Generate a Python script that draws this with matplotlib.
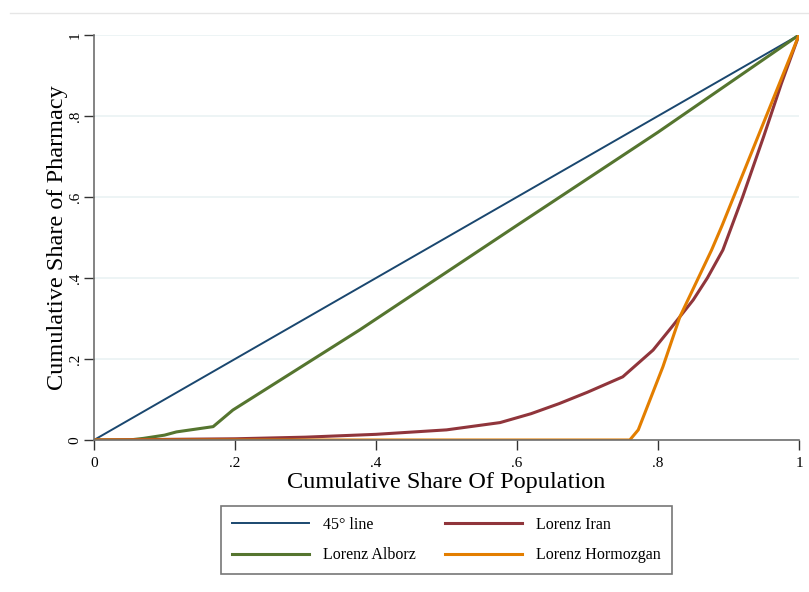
import matplotlib.pyplot as plt
from matplotlib.lines import Line2D

plt.rcParams['font.family'] = ['Liberation Serif', 'DejaVu Serif']

line45_x = [0, 0.1, 0.2, 0.3, 0.4, 0.5, 0.6, 0.7, 0.8, 0.9, 1.0]
line45_y = [0, 0.1, 0.2, 0.3, 0.4, 0.5, 0.6, 0.7, 0.8, 0.9, 1.0]

alborz_x = [0, 0.05, 0.07, 0.1, 0.117, 0.169, 0.197, 0.377, 0.6, 0.8, 1.0]
alborz_y = [0, 0.0, 0.004, 0.012, 0.02, 0.033, 0.074, 0.272, 0.53, 0.76, 1.0]

iran_x = [0, 0.2, 0.3, 0.4, 0.5, 0.576, 0.62, 0.66, 0.7, 0.75, 0.793, 0.82, 0.85, 0.87, 0.892, 0.92, 0.95, 0.975, 1.0]
iran_y = [0, 0.003, 0.007, 0.014, 0.025, 0.043, 0.065, 0.09, 0.118, 0.156, 0.222, 0.28, 0.346, 0.4, 0.469, 0.6, 0.75, 0.88, 1.0]

hormozgan_x = [0, 0.5, 0.76, 0.772, 0.807, 0.831, 0.876, 0.891, 1.0]
hormozgan_y = [0, 0.0, 0.0, 0.025, 0.181, 0.304, 0.469, 0.53, 1.0]

ticks = [0, 0.2, 0.4, 0.6, 0.8, 1.0]
tick_labels = ['0', '.2', '.4', '.6', '.8', '1']

c_navy = '#1a476f'
c_green = '#55752f'
c_maroon = '#90353b'
c_orange = '#e37e00'

fig = plt.figure(figsize=(8.09, 5.92), dpi=100)
ax = fig.add_axes([94 / 809, 1 - 440 / 592, 705 / 809, 405 / 592])

# thin rule across the top of the image
fig.add_artist(Line2D([10 / 809, 1], [1 - 13 / 592] * 2, color='#e6e6e6', lw=1))

ax.plot(line45_x, line45_y, color=c_navy, lw=1.4, label='45° line')
ax.plot(alborz_x, alborz_y, color=c_green, lw=2.2, label='Lorenz Alborz')
ax.plot(iran_x, iran_y, color=c_maroon, lw=2.2, label='Lorenz Iran')
ax.plot(hormozgan_x, hormozgan_y, color=c_orange, lw=2.2, label='Lorenz Hormozgan')

ax.set_xlim(0, 1)
ax.set_ylim(0, 1)
ax.set_xticks(ticks)
ax.set_xticklabels(tick_labels, fontsize=11)
ax.set_yticks(ticks)
ax.set_yticklabels(tick_labels, fontsize=11, rotation=90, va='center')
ax.tick_params(direction='out', length=7, width=1, color='#333333')
ax.tick_params(axis='x', pad=5)
ax.tick_params(axis='y', pad=2)

ax.yaxis.grid(True, color='#eaf2f3', lw=1.2)
ax.set_axisbelow(True)
for s in ['top', 'right']:
    ax.spines[s].set_visible(False)
for s in ['left', 'bottom']:
    ax.spines[s].set_color('#6e6e6e')
    ax.spines[s].set_linewidth(1.2)

ax.set_xlabel('Cumulative Share Of Population', fontsize=17.5, labelpad=2)
ax.set_ylabel('Cumulative Share of Pharmacy', fontsize=17.5, labelpad=0)

box = (221 / 809, 1 - 573 / 592, 451 / 809, 66 / 592)
leg = fig.legend(*ax.get_legend_handles_labels(), loc='center',
                 bbox_to_anchor=box, bbox_transform=fig.transFigure,
                 mode='expand', ncol=2, fontsize=11.5, frameon=True,
                 fancybox=False, handlelength=4.8, handletextpad=0.9,
                 labelspacing=0.9, borderpad=0.7, borderaxespad=0,
                 edgecolor='#555555')
leg.get_frame().set_linewidth(1.2)

plt.savefig('out.png', dpi=100)
